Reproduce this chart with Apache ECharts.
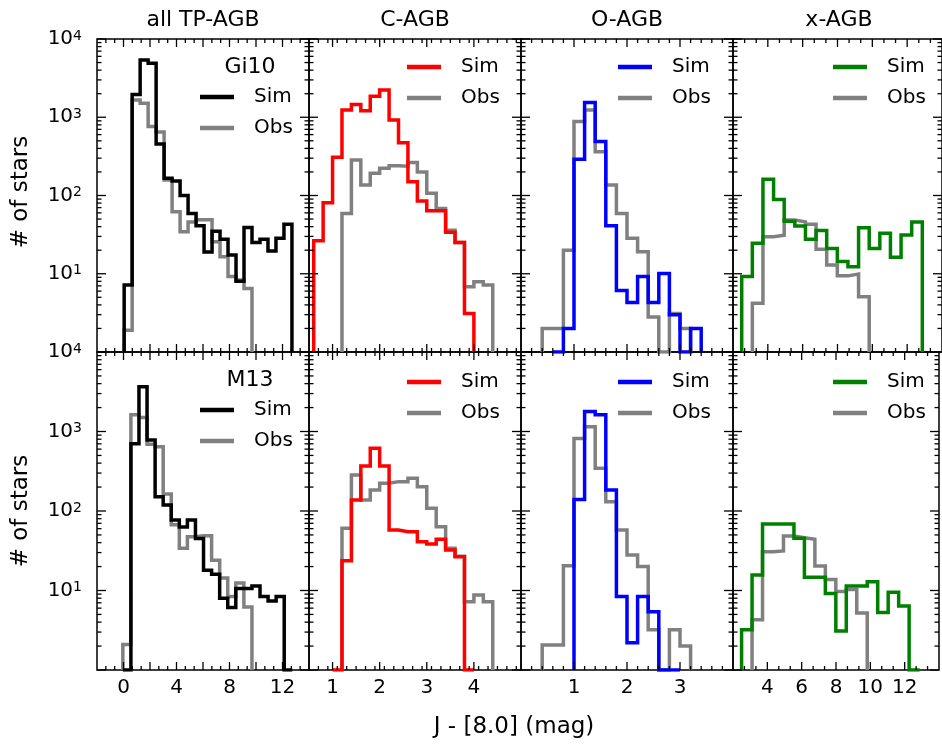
<!DOCTYPE html>
<html>
<head>
<meta charset="utf-8">
<script src="https://cdn.jsdelivr.net/npm/echarts@6/dist/echarts.min.js"></script>
<style>html,body{margin:0;padding:0;background:#fff}#c{width:942px;height:744px}</style>
</head>
<body>
<div id="c"></div>
<script>
// ---------------- data ----------------
const colTitles = ['all TP-AGB', 'C-AGB', 'O-AGB', 'x-AGB'];
const rowModels = ['Gi10', 'M13'];
const yTitle = '# of stars';
const xTitle = 'J - [8.0] (mag)';
const simColors = ['#000000', '#ff0000', '#0000ff', '#008000'];
const obsColor = '#808080';

// x axis ranges and tick labels per column
const xMins = [-2, 0.5, 0, 2];
const xMaxs = [14, 5, 4, 14];
const xLabelStep = [2, 0.5, 1, 2];
const xTickLabels = [[0, 4, 8, 12], [1, 2, 3, 4], [1, 2, 3], [4, 6, 8, 10, 12]];
const xMajorTicks = [[0, 2, 4, 6, 8, 10, 12], [1, 2, 3, 4], [1, 2, 3], [4, 6, 8, 10, 12]];
const xMinorStep = [2 / 3, 0.2, 0.2, 2 / 3];
const yTickValues = [1, 10, 100, 1000, 10000];

// histogram bin starts / widths  [row][col]
const simStart = [[0.05, 0.6, 0.6, 2.5], [-0.05, 1.0, 1.0, 2.5]];
const obsStart = [[0.05, 1.2, 0.4, 3.11], [-0.05, 1.2, 0.4, 3.11]];
const binWidth = [[0.603, 0.2, 0.2, 0.61], [0.609, 0.2, 0.2, 0.61]];

// counts (Gi10 row)
const allGi10Sim = [7.2, 1960, 5400, 4900, 455, 166, 153, 100, 59, 41, 19, 35, 27.5, 17.4, 8, 39, 25, 27.5, 19.5, 28.4, 43];
const allGi10Obs = [1.9, 1660, 1510, 760, 650, 158, 62, 34.5, 46, 49, 49, 25.7, 16.5, 9.2, 8.3, 6.5];
const cGi10Sim = [26.5, 81, 308, 1240, 1460, 1210, 1860, 2230, 920, 473, 150, 85, 64, 64, 34, 25, 3.1];
const cGi10Obs = [59, 284, 136, 192, 223, 240, 237, 265, 200, 107, 68, 36, 25, 6.8, 7.9, 7.2];
const oGi10Sim = [0, 2.0, 290, 1540, 490, 41, 6.1, 4.3, 9.2, 4.3, 10.1, 3.0, 0, 2.0];
const oGi10Obs = [2, 2, 20, 880, 1240, 363, 136, 59, 28.4, 19.1, 2.8, 0, 3.1, 2.0];
const xGi10Sim = [9.2, 24.5, 161, 89, 47, 40.7, 27.5, 35.6, 21, 14.3, 12.3, 38.8, 21, 32.9, 16.2, 31.3, 46];
const xGi10Obs = [4.2, 29.8, 31, 48.6, 46, 43, 20.5, 12.9, 9.4, 9.9, 5.1];
// counts (M13 row)
const allM13Sim = [0, 700, 3650, 780, 151, 119, 77, 63, 77, 45, 18, 16, 8, 6.1, 10.6, 10.6, 11.4, 8.4, 7.4, 8.4, 0];
const allM13Obs = [2.1, 1620, 1500, 690, 645, 164, 67, 34, 47.5, 49, 49, 24, 14.4, 8.4, 12.4, 6.2];
const cM13Sim = [0, 23.7, 138, 368, 616, 368, 57.7, 55, 55, 41, 38.5, 44, 32.3, 26.6, 0];
const cM13Obs = [60.5, 283, 138, 184, 223, 234, 234, 258, 202, 108, 63.6, 34, 27, 7.2, 8.8, 7.2];
const oM13Sim = [140, 1780, 1620, 184, 8.4, 2.2, 8.4, 5.4, 0, 0];
const oM13Obs = [2.06, 2.06, 20.5, 818, 1150, 346, 131, 57.7, 28, 20, 3.2, 0, 3.2, 2.0];
const xM13Sim = [3.2, 15.7, 68.6, 68.6, 68.6, 45.3, 14.7, 14.7, 9.2, 3.1, 11.4, 11.4, 12.9, 5.3, 9.5, 6.4, 0];
const xM13Obs = [4.3, 30.8, 31.5, 48.5, 46, 44, 20.3, 13.8, 9.7, 10.3, 5.2];

const simCounts = [[allGi10Sim, cGi10Sim, oGi10Sim, xGi10Sim], [allM13Sim, cM13Sim, oM13Sim, xM13Sim]];
const obsCounts = [[allGi10Obs, cGi10Obs, oGi10Obs, xGi10Obs], [allM13Obs, cM13Obs, oM13Obs, xM13Obs]];

// ---------------- layout ----------------
const FONT = 'DejaVu Sans';
const gridLeft0 = 97, gridW = 212;
const gridTops = [39, 352], gridHs = [313, 318];
const legendLeft = [200, 407, 618, 833];
const legendSimY = [[97, 67, 67, 67], [410, 382, 382, 382]];
const FLOOR = 1; // log-axis minimum; empty bins are drawn on it

function stepPoints(start, w, counts) {
  const pts = [[start, FLOOR]];
  counts.forEach((c, i) => {
    const v = Math.max(c, FLOOR);
    pts.push([start + i * w, v]);
    pts.push([start + (i + 1) * w, v]);
  });
  pts.push([start + counts.length * w, FLOOR]);
  return pts;
}
function rangeStep(a, b, s) {
  const out = [];
  const n = Math.round((b - a) / s);
  for (let i = 0; i <= n; i++) out.push(+(a + i * s).toFixed(6));
  return out;
}
const yMinorTicks = [];
for (let d = 0; d < 4; d++) for (let m = 2; m <= 9; m++) yMinorTicks.push(m * Math.pow(10, d));

const grids = [], xAxes = [], yAxes = [], series = [], legends = [], graphics = [];

for (let r = 0; r < 2; r++) {
  for (let c = 0; c < 4; c++) {
    const gi = r * 4 + c;
    grids.push({
      left: gridLeft0 + gridW * c, top: gridTops[r], width: gridW, height: gridHs[r],
      show: true, borderColor: '#000', borderWidth: 1.5, backgroundColor: 'transparent'
    });
    const labels = xTickLabels[c];
    xAxes.push({
      type: 'value', gridIndex: gi, min: xMins[c], max: xMaxs[c], interval: xLabelStep[c],
      axisLine: { show: false }, axisTick: { show: false }, splitLine: { show: false },
      axisLabel: {
        show: r === 1, margin: 8, color: '#000', fontSize: 20, fontFamily: FONT,
        formatter: v => { const l = labels.find(t => Math.abs(t - v) < 1e-6); return l === undefined ? '' : String(l); }
      }
    });
    yAxes.push({
      type: 'log', logBase: 10, gridIndex: gi, min: 1, max: 10000,
      axisLine: { show: false }, axisTick: { show: false }, splitLine: { show: false },
      axisLabel: {
        show: c === 0, showMinLabel: false, margin: 15, color: '#000', fontFamily: FONT,
        formatter: v => '{b|10}{s|' + Math.round(Math.log10(v)) + '}',
        rich: {
          b: { fontSize: 20, fontFamily: FONT, color: '#000', lineHeight: 20, padding: [7, 0, 0, 0], verticalAlign: 'bottom' },
          s: { fontSize: 14, fontFamily: FONT, color: '#000', lineHeight: 14, verticalAlign: 'top' }
        }
      }
    });
    // observed (grey) then simulated (coloured, on top)
    series.push({
      type: 'line', name: 'Obs|' + gi, xAxisIndex: gi, yAxisIndex: gi,
      data: stepPoints(obsStart[r][c], binWidth[r][c], obsCounts[r][c]),
      symbol: 'none', silent: true, z: 2,
      lineStyle: { color: obsColor, width: 3.5, join: 'miter', cap: 'butt' },
      itemStyle: { color: obsColor }
    });
    series.push({
      type: 'line', name: 'Sim|' + gi, xAxisIndex: gi, yAxisIndex: gi,
      data: stepPoints(simStart[r][c], binWidth[r][c], simCounts[r][c]),
      symbol: 'none', silent: true, z: 3,
      lineStyle: { color: simColors[c], width: 3.5, join: 'miter', cap: 'butt' },
      itemStyle: { color: simColors[c] }
    });
    // ticks (inward, all four sides) drawn through the axes' scales
    const tickData = [];
    const majX = xMajorTicks[c];
    majX.forEach(v => tickData.push([v, 1, 0]));
    rangeStep(xMins[c], xMaxs[c], xMinorStep[c]).forEach(v => {
      if (v > xMins[c] + 1e-6 && v < xMaxs[c] - 1e-6 && !majX.some(m => Math.abs(m - v) < 1e-4)) tickData.push([v, 1, 1]);
    });
    yTickValues.forEach(v => tickData.push([xMins[c], v, 2]));
    yMinorTicks.forEach(v => tickData.push([xMins[c], v, 3]));
    series.push({
      type: 'custom', xAxisIndex: gi, yAxisIndex: gi, silent: true, z: 4,
      encode: { x: 0, y: 1 }, data: tickData,
      renderItem: (params, api) => {
        const cs = params.coordSys;
        const kind = api.value(2);
        const p = api.coord([api.value(0), api.value(1)]);
        const st = { stroke: '#000', lineWidth: 1.3 };
        if (kind < 2) {
          const L = kind === 0 ? 8 : 4;
          const x = p[0], yb = cs.y + cs.height, yt = cs.y;
          return { type: 'group', children: [
            { type: 'line', shape: { x1: x, y1: yb, x2: x, y2: yb - L }, style: st },
            { type: 'line', shape: { x1: x, y1: yt, x2: x, y2: yt + L }, style: st }
          ] };
        }
        const L = kind === 2 ? 9 : 4.5;
        const y = p[1], xl = cs.x, xr = cs.x + cs.width;
        return { type: 'group', children: [
          { type: 'line', shape: { x1: xl, y1: y, x2: xl + L, y2: y }, style: st },
          { type: 'line', shape: { x1: xr, y1: y, x2: xr - L, y2: y }, style: st }
        ] };
      }
    });
    legends.push({
      left: legendLeft[c], top: legendSimY[r][c] - 12, orient: 'vertical', padding: 0,
      itemWidth: 34, itemHeight: 4.5, itemGap: 7, icon: 'rect', selectedMode: false,
      data: ['Sim|' + gi, 'Obs|' + gi],
      formatter: n => n.split('|')[0],
      textStyle: { fontSize: 20, fontFamily: FONT, color: '#000', lineHeight: 24, padding: [0, 0, 0, 15] }
    });
    if (r === 0) {
      graphics.push({ type: 'text', x: gridLeft0 + gridW * c + gridW / 2, y: 20,
        style: { text: colTitles[c], align: 'center', verticalAlign: 'middle', fontSize: 22, fontFamily: FONT, fill: '#000' } });
    }
  }
}
graphics.push({ type: 'text', x: 250, y: 67, style: { text: rowModels[0], align: 'center', verticalAlign: 'middle', fontSize: 22, fontFamily: FONT, fill: '#000' } });
graphics.push({ type: 'text', x: 250, y: 380, style: { text: rowModels[1], align: 'center', verticalAlign: 'middle', fontSize: 22, fontFamily: FONT, fill: '#000' } });
graphics.push({ type: 'text', x: 514, y: 727, style: { text: xTitle, align: 'center', verticalAlign: 'middle', fontSize: 23, fontFamily: FONT, fill: '#000' } });
graphics.push({ type: 'text', x: 21, y: 192, rotation: Math.PI / 2, style: { text: yTitle, align: 'center', verticalAlign: 'middle', fontSize: 23, fontFamily: FONT, fill: '#000' } });
graphics.push({ type: 'text', x: 21, y: 511, rotation: Math.PI / 2, style: { text: yTitle, align: 'center', verticalAlign: 'middle', fontSize: 23, fontFamily: FONT, fill: '#000' } });

const chart = echarts.init(document.getElementById('c'), null, { renderer: 'canvas' });
chart.setOption({
  animation: false,
  backgroundColor: '#fff',
  grid: grids, xAxis: xAxes, yAxis: yAxes, series: series, legend: legends, graphic: graphics
});
</script>
</body>
</html>
